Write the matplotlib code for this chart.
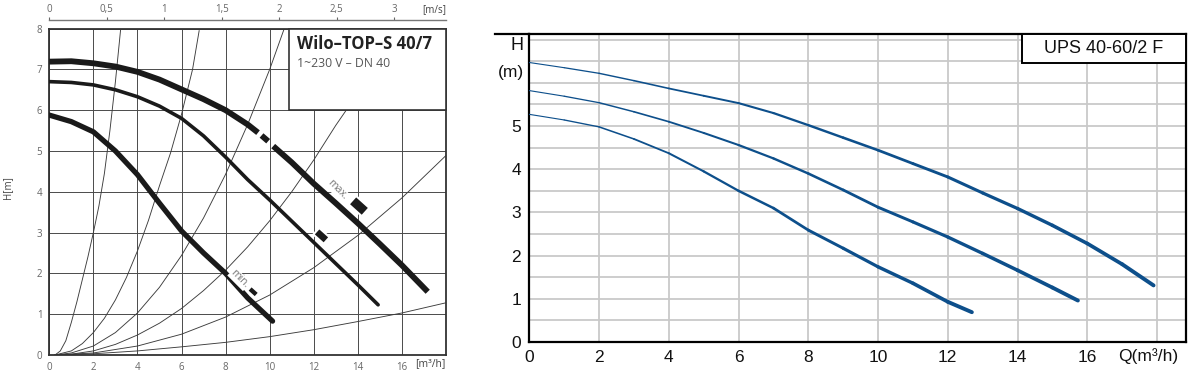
import numpy as np
import matplotlib
matplotlib.use("Agg")
import matplotlib.pyplot as plt
from matplotlib.collections import LineCollection
from matplotlib.lines import Line2D
from matplotlib.patches import Rectangle
from matplotlib.markers import MarkerStyle
from matplotlib.transforms import Affine2D

W, H = 1200, 372

# ---- left chart: Wilo-TOP-S 40/7 (Q in m3/h, H in m) ----
wilo_max_q = [0, 1, 2, 3, 4, 5, 6, 7, 8, 9, 9.47, np.nan, 9.63, 9.93, np.nan,
              10.16, 11, 12, 13, 14, 15, 16, 17.17]
wilo_max_h = [7.19, 7.2, 7.15, 7.07, 6.94, 6.75, 6.51, 6.27, 6.0, 5.65, 5.45, np.nan, 5.38, 5.24, np.nan,
              5.12, 4.72, 4.2, 3.72, 3.23, 2.72, 2.2, 1.55]
wilo_mid_q = [0, 1, 2, 3, 4, 5, 6, 7, 8, 9, 10, 11, 12, 13, 14, 14.92]
wilo_mid_h = [6.7, 6.68, 6.62, 6.5, 6.33, 6.1, 5.8, 5.37, 4.85, 4.3, 3.8, 3.28, 2.76, 2.24, 1.72, 1.23]
wilo_min_q = [0, 1, 2, 3, 4, 5, 6, 7, 8, 9, 10.13]
wilo_min_h = [5.88, 5.72, 5.47, 5.0, 4.42, 3.72, 3.04, 2.5, 2.0, 1.4, 0.83]

# system curves (thin)
sys_a_q = [0.26, 0.5, 0.75, 1.0, 1.25, 1.5, 1.75, 2.0, 2.25, 2.5, 2.75, 3.0, 3.24]
sys_a_h = [0, 0.1, 0.35, 0.8, 1.3, 1.85, 2.4, 3.0, 3.65, 4.45, 5.5, 6.7, 8.0]
sys_b_q = [0.26, 1, 1.5, 2, 2.5, 3, 3.5, 4, 4.5, 5, 5.5, 6, 6.5, 6.8]
sys_b_h = [0, 0.1, 0.28, 0.55, 0.9, 1.35, 1.9, 2.55, 3.3, 4.15, 4.95, 5.9, 7.0, 7.95]
sys_c_q = [0.26, 1, 2, 3, 4, 5, 6, 7, 8, 9, 10, 10.66]
sys_c_h = [0, 0.05, 0.22, 0.55, 1.03, 1.66, 2.44, 3.36, 4.43, 5.65, 7.0, 8.0]
sys_d_q = [0.26, 1, 2, 3, 4, 5, 6, 7, 8, 9, 10, 11, 12, 13, 13.6]
sys_d_h = [0, 0.02, 0.1, 0.26, 0.49, 0.78, 1.14, 1.58, 2.08, 2.65, 3.29, 4.0, 4.78, 5.63, 6.1]
sys_e_q = [0.26, 2, 4, 6, 8, 10, 12, 14, 16, 18]
sys_e_h = [0, 0.05, 0.22, 0.51, 0.93, 1.47, 2.14, 2.93, 3.85, 4.89]
sys_f_q = [0.26, 2, 4, 6, 8, 10, 12, 14, 16, 18]
sys_f_h = [0, 0.03, 0.1, 0.2, 0.31, 0.45, 0.62, 0.82, 1.03, 1.28]

# speed selector symbols and labels
mark_q = [9.25, 12.35, 14.05]
mark_h = [1.55, 2.92, 3.65]
mark_size = [30, 55, 90]
label_text = ["min.", "max."]
label_q = [8.62, 13.05]
label_h = [1.86, 4.05]

x_ticks_left = [0, 2, 4, 6, 8, 10, 12, 14, 16, 18]
y_ticks_left = [0, 1, 2, 3, 4, 5, 6, 7, 8]
vel_ticks = [0, 0.5, 1, 1.5, 2, 2.5, 3]
Q_PER_VEL = 5.217

# ---- right chart: UPS 40-60/2 F ----
ups_hi_q = [0, 1, 2, 3, 4, 5, 6, 7, 8, 9, 10, 11, 12, 13, 14, 15, 16, 17, 17.9]
ups_hi_h = [6.47, 6.35, 6.22, 6.05, 5.87, 5.7, 5.53, 5.3, 5.02, 4.73, 4.44, 4.13, 3.82, 3.45, 3.09, 2.7, 2.28,
            1.8, 1.31]
ups_mid_q = [0, 1, 2, 3, 4, 5, 6, 7, 8, 9, 10, 11, 12, 13, 14, 15, 15.73]
ups_mid_h = [5.82, 5.69, 5.54, 5.33, 5.10, 4.84, 4.56, 4.25, 3.9, 3.52, 3.12, 2.78, 2.43, 2.05, 1.66, 1.26, 0.96]
ups_lo_q = [0, 1, 2, 3, 4, 5, 6, 7, 8, 9, 10, 11, 12, 12.69]
ups_lo_h = [5.27, 5.14, 4.98, 4.7, 4.37, 3.95, 3.5, 3.1, 2.59, 2.17, 1.74, 1.36, 0.93, 0.69]

x_ticks_right = [0, 2, 4, 6, 8, 10, 12, 14, 16, 18]
y_ticks_right = [0, 0.5, 1, 1.5, 2, 2.5, 3, 3.5, 4, 4.5, 5, 5.5, 6, 6.5, 7]

fig = plt.figure(figsize=(12, 3.72), dpi=100)

# ================= left =================
LF = "Open Sans"
GRAYTXT = "#666666"
ax1 = fig.add_axes([49.3 / W, 1 - 355 / H, (446 - 49.3) / W, (355 - 28.6) / H])
ax1.set_xlim(0, 18)
ax1.set_ylim(0, 8)
ax1.set_xticks(x_ticks_left)
ax1.set_xticklabels([str(v) for v in x_ticks_left[:-1]] + [""])
ax1.set_yticks(y_ticks_left)
ax1.tick_params(length=0, labelsize=7, labelcolor=GRAYTXT, pad=5)
for lab in ax1.get_xticklabels() + ax1.get_yticklabels():
    lab.set_fontfamily(LF)
ax1.grid(True, color="#4a4a4a", lw=0.7)
ax1.set_axisbelow(True)
for s in ax1.spines.values():
    s.set_color("#333333")
    s.set_linewidth(1.3)

for q, h in [(sys_a_q, sys_a_h), (sys_b_q, sys_b_h), (sys_c_q, sys_c_h),
             (sys_d_q, sys_d_h), (sys_e_q, sys_e_h), (sys_f_q, sys_f_h)]:
    ax1.plot(q, h, color="#3c3c3c", lw=0.65, zorder=2)

ax1.plot(wilo_max_q, wilo_max_h, color="#1a1a1a", lw=4.2, solid_capstyle="butt",
         solid_joinstyle="round", zorder=3)
ax1.plot(wilo_mid_q, wilo_mid_h, color="#1a1a1a", lw=2.6, solid_capstyle="round",
         solid_joinstyle="round", zorder=3)
ax1.plot(wilo_min_q, wilo_min_h, color="#1a1a1a", lw=3.8, solid_capstyle="round",
         solid_joinstyle="round", zorder=3)

icon = MarkerStyle("s", transform=Affine2D().scale(1.35, 0.85).rotate_deg(-42))
ax1.scatter(mark_q, mark_h, s=mark_size, marker=icon, color="#1a1a1a",
            edgecolors="white", linewidths=1.5, zorder=4)
for t, q, h in zip(label_text, label_q, label_h):
    ax1.text(q, h, t, fontsize=7.5, color="#777777", family=LF, rotation=-45,
             ha="center", va="center", zorder=4,
             bbox=dict(facecolor="white", edgecolor="none", pad=0.3))

ax1.add_patch(Rectangle((10.87, 6.0), 18 - 10.87, 2.0, facecolor="white",
                        edgecolor="#333333", lw=1.2, zorder=5, clip_on=False))
ax1.text(11.25, 7.63, "Wilo\u2013TOP\u2013S 40/7", fontsize=12, fontweight="bold",
         color="#222222", family=LF, ha="left", va="center", zorder=6)
ax1.text(11.25, 7.15, "1~230 V \u2013 DN 40", fontsize=8.8, color="#555555",
         family=LF, ha="left", va="center", zorder=6)

fig.text(8 / W, 1 - 188 / H, "H[m]", rotation=90, fontsize=7,
         color="#444444", family=LF, ha="center", va="center")
fig.text(446 / W, 1 - 364 / H, "[m\u00b3/h]", fontsize=7.5,
         color="#444444", family=LF, ha="right", va="center")

sec = ax1.secondary_xaxis(1.026, functions=(lambda q: q / Q_PER_VEL, lambda v: v * Q_PER_VEL))
sec.set_xticks(vel_ticks)
sec.set_xticklabels([f"{v:g}".replace(".", ",") for v in vel_ticks])
sec.tick_params(length=2, width=0.8, color=GRAYTXT, labelsize=7, labelcolor=GRAYTXT, pad=2)
for lab in sec.get_xticklabels():
    lab.set_fontfamily(LF)
sec.spines["top"].set_color("#777777")
sec.spines["top"].set_linewidth(1.0)
fig.text(446 / W, 1 - 10 / H, "[m/s]", fontsize=7,
         color="#444444", family=LF, ha="right", va="center")

# ================= right =================
RF = "Liberation Sans"
BLUE = "#0d4f8b"
ax2 = fig.add_axes([529.3 / W, 1 - 342 / H, (1186 - 529.3) / W, (342 - 34) / H])
ax2.set_xlim(0, 18.83)
ax2.set_ylim(0, 7.13)
ax2.set_xticks(x_ticks_right)
ax2.set_xticklabels([str(v) for v in x_ticks_right[:-1]] + [""])
ax2.set_yticks(y_ticks_right)
ax2.set_yticklabels([f"{v:g}" if v == int(v) and v <= 5 else "" for v in y_ticks_right])
ax2.tick_params(length=0, labelsize=12.5, labelcolor="#111111", pad=6)
for lab in ax2.get_xticklabels() + ax2.get_yticklabels():
    lab.set_fontfamily(RF)
ax2.grid(True, color="#c9c9c9", lw=1.3)
ax2.set_axisbelow(True)
for s in ax2.spines.values():
    s.set_color("black")
    s.set_linewidth(1.6)

for q, h in [(ups_hi_q, ups_hi_h), (ups_mid_q, ups_mid_h), (ups_lo_q, ups_lo_h)]:
    pts = np.column_stack([q, h])
    segs = np.stack([pts[:-1], pts[1:]], axis=1)
    widths = np.linspace(0.8, 2.8, len(segs))
    ax2.add_collection(LineCollection(segs, colors=BLUE, linewidths=widths,
                                      capstyle="round", zorder=3))

box_left = (1021.7 - 529.3) / (1186 - 529.3)
box_bottom = (342 - 62.7) / (342 - 34)
ax2.add_patch(Rectangle((box_left, box_bottom), 1 - box_left, 1 - box_bottom,
                        transform=ax2.transAxes, facecolor="white",
                        edgecolor="black", lw=1.4, zorder=5))
ax2.text((box_left + 1) / 2, (box_bottom + 1) / 2, "UPS 40-60/2 F", transform=ax2.transAxes,
         fontsize=13, family=RF, color="#111111", ha="center", va="center", zorder=6)

fig.text(517 / W, 1 - 46 / H, "H", fontsize=13, family=RF, color="#111111",
         ha="center", va="center")
fig.text(511 / W, 1 - 73 / H, "(m)", fontsize=12.5, family=RF, color="#111111",
         ha="center", va="center")
fig.text(1148 / W, 1 - 356 / H, "Q(m\u00b3/h)", fontsize=12.5, family=RF,
         color="#111111", ha="center", va="center")
fig.add_artist(Line2D([495 / W, 529.3 / W], [1 - 34 / H, 1 - 34 / H], color="black", lw=1.6))

fig.savefig("out.png", dpi=100, facecolor="white")
